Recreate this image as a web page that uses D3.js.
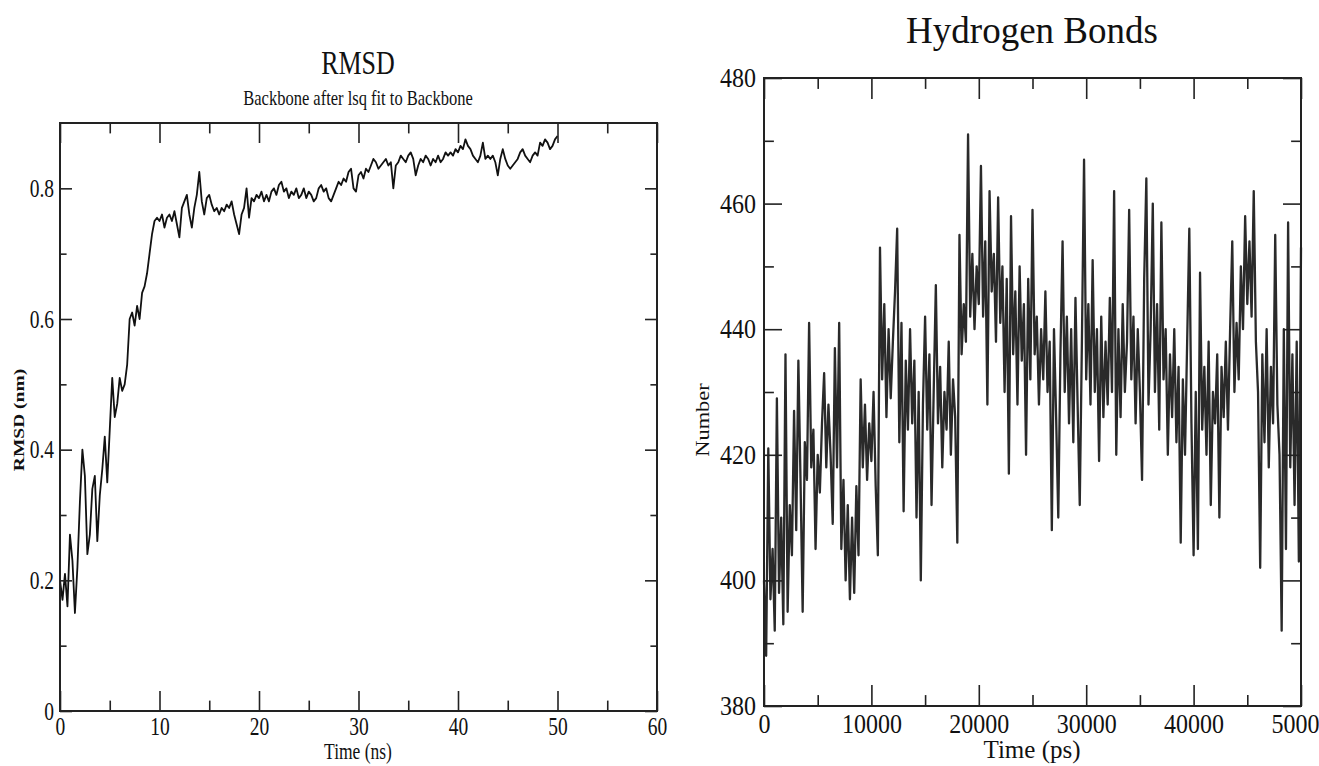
<!DOCTYPE html>
<html>
<head>
<meta charset="utf-8">
<script src="https://cdn.jsdelivr.net/npm/d3@7"></script>
<style>
  body { margin: 0; background: #fff; }
  text { font-family: "Liberation Serif", "Times New Roman", serif; fill: #111; }
</style>
</head>
<body>
<svg id="fig" width="1319" height="766"></svg>
<script>

// RMSD (nm), backbone, sampled every 0.25 ns from 0 to 50 ns
var rmsd = [
  0.20, 0.17, 0.21, 0.16, 0.27, 0.23, 0.15, 0.22, 0.32, 0.40, 0.36, 0.24, 0.27, 0.34, 0.36, 0.26,
  0.33, 0.37, 0.42, 0.35, 0.43, 0.51, 0.45, 0.47, 0.51, 0.49, 0.50, 0.53, 0.60, 0.61, 0.59, 0.62,
  0.60, 0.64, 0.65, 0.67, 0.70, 0.73, 0.75, 0.755,
  0.75, 0.76, 0.74, 0.755, 0.76, 0.75, 0.765, 0.745, 0.725, 0.77, 0.78, 0.79, 0.76, 0.74, 0.77, 0.79,
  0.825, 0.78, 0.76, 0.785, 0.79, 0.775, 0.765, 0.77, 0.76, 0.77, 0.765, 0.775, 0.77, 0.78, 0.76, 0.745,
  0.73, 0.76, 0.77, 0.80, 0.755, 0.785, 0.78, 0.79,
  0.785, 0.795, 0.78, 0.79, 0.78, 0.795, 0.80, 0.79, 0.805, 0.81, 0.795, 0.80, 0.785, 0.795, 0.79, 0.80,
  0.785, 0.79, 0.80, 0.785, 0.795, 0.79, 0.78, 0.785, 0.80, 0.805, 0.795, 0.80, 0.785, 0.78, 0.79, 0.80,
  0.81, 0.805, 0.815, 0.81, 0.825, 0.83, 0.80, 0.795,
  0.82, 0.825, 0.815, 0.83, 0.825, 0.835, 0.845, 0.84, 0.83, 0.835, 0.84, 0.845, 0.835, 0.84, 0.80, 0.835,
  0.84, 0.85, 0.845, 0.84, 0.85, 0.855, 0.845, 0.82, 0.835, 0.845, 0.84, 0.85, 0.845, 0.835, 0.845, 0.84,
  0.85, 0.84, 0.845, 0.855, 0.85, 0.855, 0.85, 0.86,
  0.855, 0.865, 0.86, 0.875, 0.865, 0.86, 0.85, 0.845, 0.84, 0.85, 0.87, 0.845, 0.85, 0.845, 0.85, 0.84,
  0.82, 0.845, 0.86, 0.845, 0.835, 0.83, 0.835, 0.84, 0.845, 0.855, 0.86, 0.85, 0.845, 0.84, 0.85, 0.855,
  0.85, 0.87, 0.865, 0.875, 0.87, 0.86, 0.865, 0.875, 0.88
]

// number of hydrogen bonds, sampled every 200 ps from 0 to 50000 ps
var hbonds = [
  400, 388, 421, 397, 405, 392, 429, 398, 410, 393,
  436, 395, 412, 404, 427, 408, 435, 416, 395, 422,
  416, 441, 418, 424, 405, 420, 414, 425, 433, 418,
  428, 420, 409, 437, 418, 441, 405, 416, 400, 412,
  397, 410, 398, 415, 404, 432, 418, 428, 416, 425,
  419, 430, 415, 404, 453, 432, 444, 426, 440, 429,
  438, 446, 456, 422, 441, 411, 435, 424, 440, 425,
  435, 410, 430, 400, 428, 442, 424, 436, 412, 430,
  447, 425, 434, 418, 430, 424, 438, 420, 432, 426,
  406, 455, 436, 444, 438, 471, 442, 452, 440, 450,
  444, 466, 442, 454, 428, 462, 446, 452, 438, 461,
  441, 450, 430, 448, 417, 458, 436, 446, 428, 450,
  435, 444, 420, 448, 432, 459, 436, 442, 428, 440,
  432, 446, 430, 438, 408, 440, 426, 410, 436, 454,
  430, 442, 425, 440, 422, 445, 428, 412, 438, 467,
  432, 444, 428, 451, 430, 440, 419, 442, 426, 438,
  428, 445, 430, 462, 420, 440, 426, 444, 430, 438,
  459, 432, 442, 425, 440, 430, 416, 448, 464, 428,
  440, 460, 430, 444, 424, 457, 432, 440, 420, 436,
  426, 440, 422, 434, 406, 432, 420, 438, 456, 425,
  404, 430, 405, 449, 424, 434, 420, 438, 412, 430,
  425, 436, 410, 434, 426, 438, 424, 440, 454, 430,
  441, 432, 450, 440, 458, 444, 454, 442, 462, 438,
  430, 402, 436, 422, 440, 418, 434, 425, 455, 428,
  420, 392, 440, 405, 457, 418, 436, 412, 438, 403,
  453
]

// ticks
var rmsdXMajor = [0, 10, 20, 30, 40, 50, 60]
var rmsdXMinor = [5, 15, 25, 35, 45, 55]
var rmsdYMajor = [0, 0.2, 0.4, 0.6, 0.8]
var rmsdYMinor = [0.1, 0.3, 0.5, 0.7]

var hbXMajor = [0, 10000, 20000, 30000, 40000, 50000]
var hbXMinor = [5000, 15000, 25000, 35000, 45000]
var hbYMajor = [380, 400, 420, 440, 460, 480]
var hbYMinor = [390, 410, 430, 450, 470]

var svg = d3.select("#fig")

// text with an optional vertical stretch (the source picture is squeezed sideways)
function label(g, txt, x, y, size, sy, rot, weight) {
  return g.append("text")
    .attr("transform", "translate(" + x + "," + y + ") scale(1," + sy + ")" + (rot ? " rotate(" + rot + ")" : ""))
    .attr("text-anchor", "middle")
    .style("font-size", size + "px")
    .style("font-weight", weight || "normal")
    .text(txt)
}

function panel(c) {
  var g = svg.append("g").attr("transform", "translate(" + c.left + "," + c.top + ")")
  var x = d3.scaleLinear().domain(c.xDomain).range([0, c.w])
  var y = d3.scaleLinear().domain(c.yDomain).range([c.h, 0])

  // data line first, frame and ticks on top
  g.append("path")
    .datum(c.values)
    .attr("fill", "none")
    .attr("stroke", c.stroke)
    .attr("stroke-width", c.strokeWidth)
    .attr("stroke-linejoin", "round")
    .attr("d", d3.line()
      .x((d, i) => x(c.xDomain[0] + i * c.xEnd / (c.values.length - 1)))
      .y(d => y(d)))

  function ticks(axis, tx, ty, vals, len, fmt, pad) {
    var a = g.append("g").attr("transform", "translate(" + tx + "," + ty + ")")
      .call(axis.tickValues(vals).tickSize(-len).tickSizeOuter(0).tickPadding(pad || 0).tickFormat(fmt || ""))
    a.select(".domain").remove()
    a.selectAll("line").attr("stroke", "#222").attr("stroke-width", 1.6)
    return a
  }

  var bx = ticks(d3.axisBottom(x), 0, c.h, c.xMajor, c.xTick, c.xFmt, c.pad)
  ticks(d3.axisBottom(x), 0, c.h, c.xMinor, c.xTick * 0.52)
  ticks(d3.axisTop(x), 0, 0, c.xMajor, c.xTick)
  ticks(d3.axisTop(x), 0, 0, c.xMinor, c.xTick * 0.52)
  var ly = ticks(d3.axisLeft(y), 0, 0, c.yMajor, c.yTick, c.yFmt, c.pad)
  ticks(d3.axisLeft(y), 0, 0, c.yMinor, c.yTick * 0.55)
  ticks(d3.axisRight(y), c.w, 0, c.yMajor, c.yTick)
  ticks(d3.axisRight(y), c.w, 0, c.yMinor, c.yTick * 0.55)

  bx.selectAll("text")
    .style("font-size", c.tickFont + "px")
    .attr("y", c.pad / c.sy)
    .attr("transform", "scale(1," + c.sy + ")")
  ly.selectAll("text")
    .style("font-size", c.tickFont + "px")
    .attr("transform", "scale(1," + c.sy + ")")

  g.append("rect")
    .attr("width", c.w).attr("height", c.h)
    .attr("fill", "none").attr("stroke", "#222").attr("stroke-width", 2)
  return g
}

// left: RMSD
panel({
  left: 60, top: 123, w: 597, h: 588,
  xDomain: [0, 60], yDomain: [0, 0.9], xEnd: 50,
  values: rmsd, stroke: "#111", strokeWidth: 1.8,
  xMajor: rmsdXMajor, xMinor: rmsdXMinor, yMajor: rmsdYMajor, yMinor: rmsdYMinor,
  xTick: 20, yTick: 12, pad: 6, tickFont: 19.5, sy: 1.3,
  xFmt: d3.format("d"), yFmt: d => d === 0 ? "0" : d3.format(".1f")(d)
})
label(svg, "RMSD", 358, 74, 26, 1.3)
label(svg, "Backbone after lsq fit to Backbone", 358, 105, 16.5, 1.3)
label(svg, "Time (ns)", 358, 759, 17.5, 1.3)
label(svg, "RMSD (nm)", 24, 420, 15, 1.3, -90, "bold")

// right: hydrogen bonds
panel({
  left: 764, top: 78, w: 537, h: 628,
  xDomain: [0, 50000], yDomain: [380, 480], xEnd: 50000,
  values: hbonds, stroke: "#2a2a2a", strokeWidth: 2.3,
  xMajor: hbXMajor, xMinor: hbXMinor, yMajor: hbYMajor, yMinor: hbYMinor,
  xTick: 21, yTick: 18, pad: 8, tickFont: 24, sy: 1.1,
  xFmt: d3.format("d"), yFmt: d3.format("d")
})
label(svg, "Hydrogen Bonds", 1032, 43, 37, 1.0)
label(svg, "Time (ps)", 1032, 758, 25, 1.0)
label(svg, "Number", 709, 420, 19.5, 1.15, -90)

</script>
</body>
</html>
